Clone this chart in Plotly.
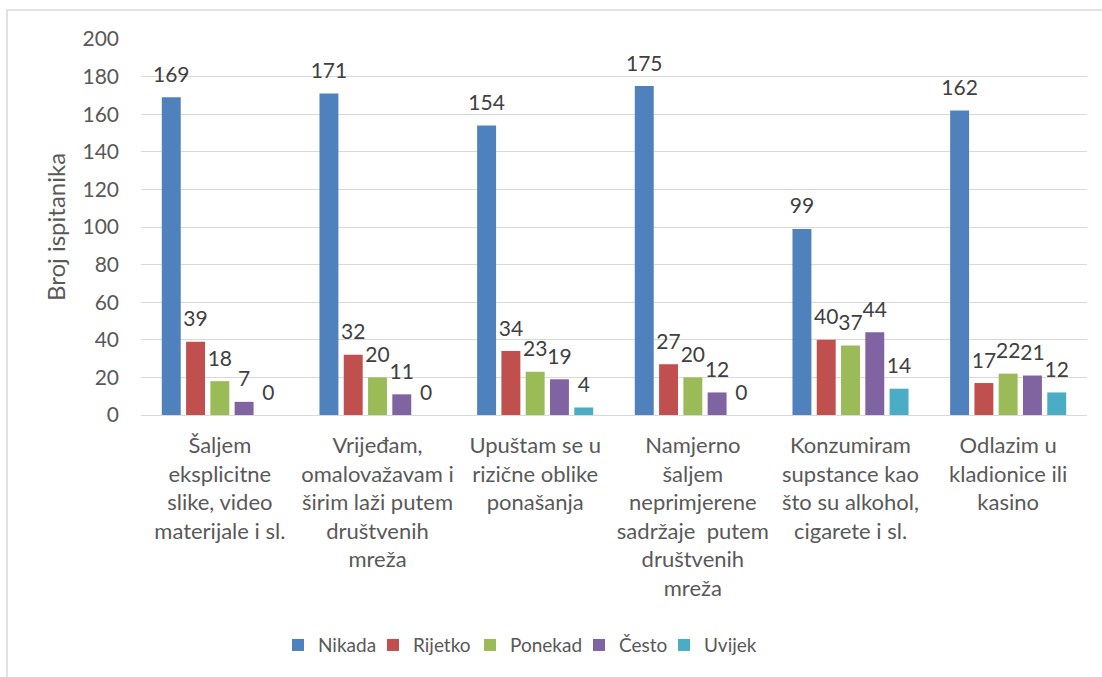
import plotly.graph_objects as go

categories = [
    "Šaljem<br>eksplicitne<br>slike, video<br>materijale i sl.",
    "Vrijeđam,<br>omalovažavam i<br>širim laži putem<br>društvenih<br>mreža",
    "Upuštam se u<br>rizične oblike<br>ponašanja",
    "Namjerno<br>šaljem<br>neprimjerene<br>sadržaje  putem<br>društvenih<br>mreža",
    "Konzumiram<br>supstance kao<br>što su alkohol,<br>cigarete i sl.",
    "Odlazim u<br>kladionice ili<br>kasino",
]
series_names = ["Nikada", "Rijetko", "Ponekad", "Često", "Uvijek"]
nikada = [169, 171, 154, 175, 99, 162]
rijetko = [39, 32, 34, 27, 40, 17]
ponekad = [18, 20, 23, 20, 37, 22]
cesto = [7, 11, 19, 12, 44, 21]
uvijek = [0, 0, 4, 0, 14, 12]
y_ticks = [0, 20, 40, 60, 80, 100, 120, 140, 160, 180, 200]

colors = ["#4F81BD", "#C0504D", "#9BBB59", "#8064A2", "#4BACC6"]
FONT = "Lato, 'Open Sans', sans-serif"
legend_px = [298, 393, 490, 599, 684]  # left edge of each legend symbol (px)
legend_ids = ["legend", "legend2", "legend3", "legend4", "legend5"]

fig = go.Figure()
for name, vals, col, lid in zip(series_names, [nikada, rijetko, ponekad, cesto, uvijek], colors, legend_ids):
    fig.add_trace(go.Bar(
        x=categories, y=vals, name=name, legend=lid,
        marker=dict(color=col, line=dict(width=0)),
        text=[str(v) for v in vals],
        textposition="outside",
        texttemplate="<span style='font-size:21px'>%{text}</span><br> ",
        constraintext="none",
        cliponaxis=False,
        textfont=dict(family=FONT, size=8, color="#404040"),
    ))

legend_layout = {}
for lid, px in zip(legend_ids, legend_px):
    legend_layout[lid] = dict(
        orientation="h", x=(px - 141 - 20) / 946, xanchor="left",
        y=-0.612, yanchor="middle",
        font=dict(family=FONT, size=19, color="#595959"),
        bgcolor="rgba(0,0,0,0)",
    )

fig.update_layout(
    width=1102, height=677,
    barmode="group", bargap=0.23, bargroupgap=0.22,
    plot_bgcolor="white", paper_bgcolor="white",
    margin=dict(l=141, r=15, t=39, b=262),
    font=dict(family=FONT, size=20, color="#595959"),
    yaxis=dict(
        range=[0, 200], tickvals=y_ticks, showgrid=True,
        gridcolor="#D9D9D9", gridwidth=1.3, zeroline=True,
        zerolinecolor="#D9D9D9", zerolinewidth=1.3,
        tickfont=dict(family=FONT, size=21, color="#595959"),
        ticklabelstandoff=21,
        title=dict(text="Broj ispitanika", standoff=10,
                   font=dict(family=FONT, size=24, color="#595959")),
    ),
    xaxis=dict(
        showline=False, ticks="",
        tickfont=dict(family=FONT, size=22, color="#595959"),
        tickangle=0, ticklabelstandoff=15,
    ),
    showlegend=True,
    **legend_layout,
)

fig.add_shape(type="rect", xref="paper", yref="paper",
              x0=(7 - 141) / 946, x1=1.2, y0=-2, y1=(415 - 10) / 376,
              line=dict(color="#D9D9D9", width=1.5), fillcolor="rgba(0,0,0,0)",
              layer="below")

fig.write_html("out.html", config={"displayModeBar": False},
               post_script="document.body.style.margin='0';document.body.style.padding='0';")
